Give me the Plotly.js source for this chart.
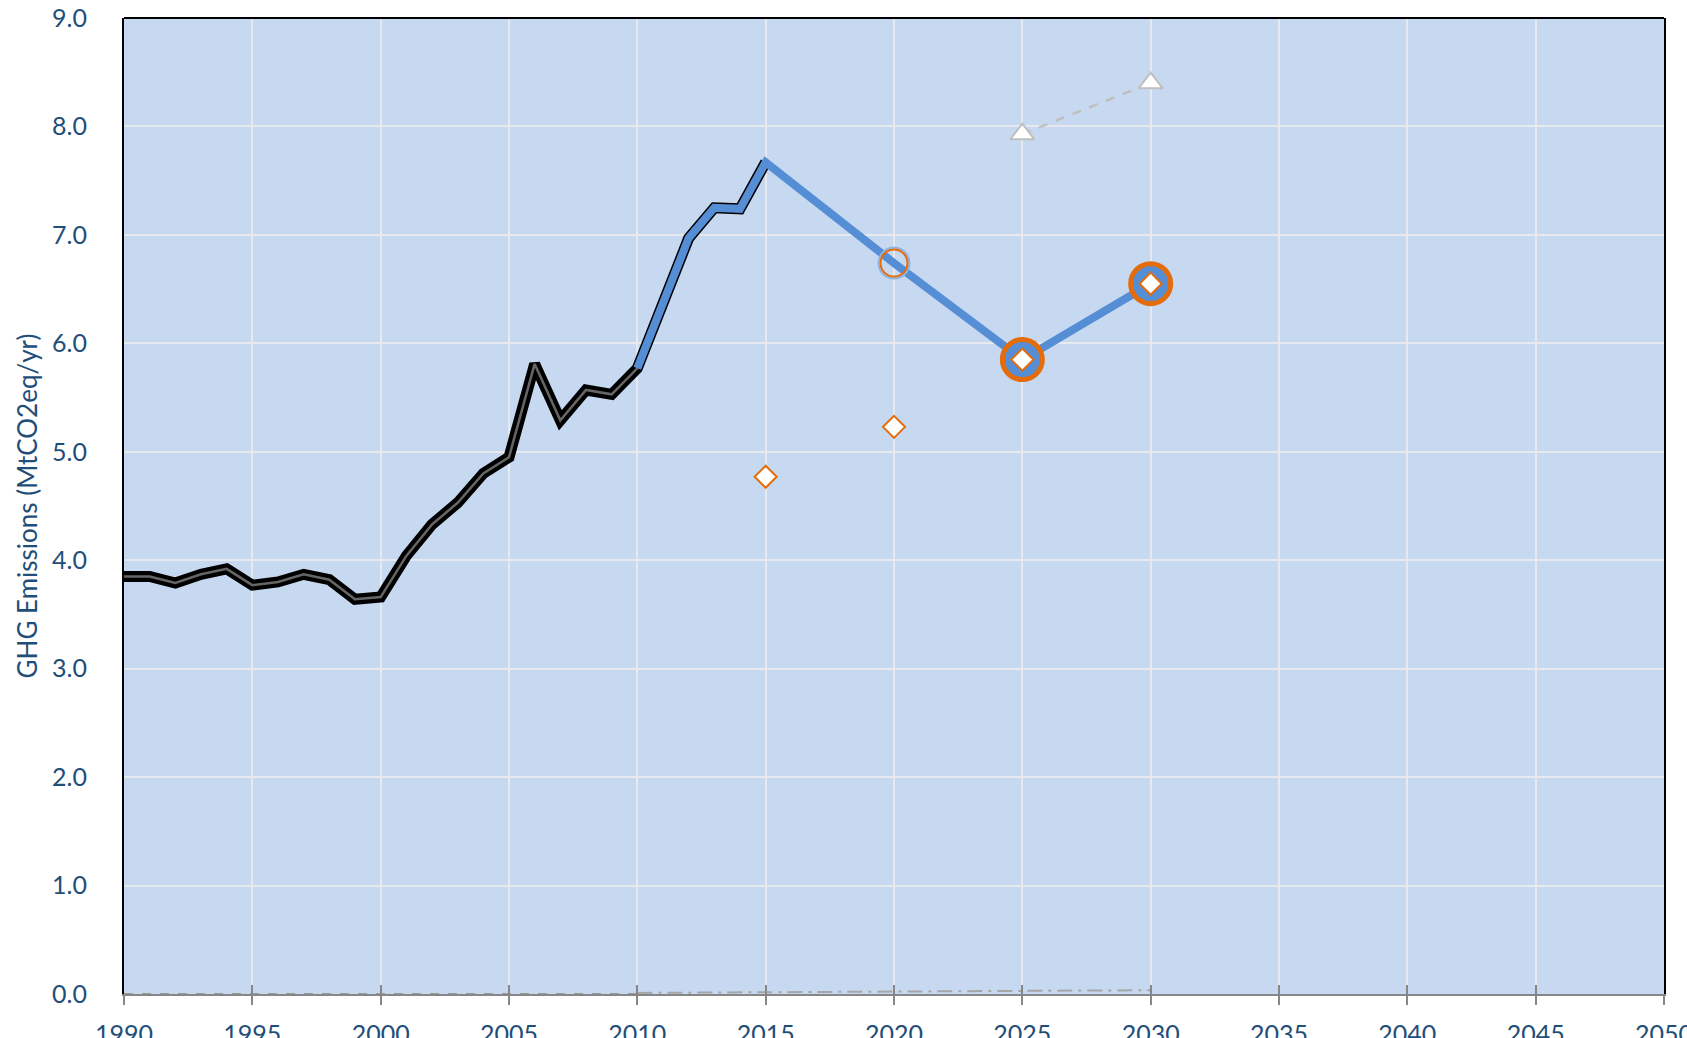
<!DOCTYPE html>
<html>
<head>
<meta charset="utf-8">
<script src="https://cdn.plot.ly/plotly-3.0.1.min.js"></script>
<style>html,body{margin:0;padding:0;background:#fff;}#chart{width:1687px;height:1038px;}</style>
</head>
<body>
<div id="chart"></div>
<script>
// Historical emissions (MtCO2eq/yr)
const histYears = [1990,1991,1992,1993,1994,1995,1996,1997,1998,1999,2000,2001,2002,2003,2004,2005,2006,2007,2008,2009,2010,2011,2012,2013,2014,2015];
const histValues = [3.85,3.85,3.79,3.87,3.92,3.77,3.80,3.87,3.82,3.64,3.66,4.04,4.33,4.53,4.80,4.95,5.81,5.29,5.57,5.53,5.77,6.36,6.97,7.25,7.24,7.67];

// Projection path (blue)
const projYears = [2010,2011,2012,2013,2014,2015,2020,2025,2030];
const projValues = [5.77,6.36,6.97,7.25,7.24,7.67,6.74,5.85,6.55];

// 2020 open circle marker
const circleYears = [2020];
const circleValues = [6.74];

// Target markers (large orange rings)
const targetYears = [2025,2030];
const targetValues = [5.85,6.55];

// Orange diamonds
const diamondYears = [2015,2020,2025,2030];
const diamondValues = [4.77,5.23,5.85,6.55];

// Grey triangles (dashed)
const triYears = [2025,2030];
const triValues = [7.93,8.40];

// Near-zero series along the axis
const zeroYearsA = [1990,1995,2000,2005,2010];
const zeroValuesA = [0,0,0,0,0];
const zeroYearsB = [2010,2015,2020,2025,2030];
const zeroValuesB = [0.01,0.015,0.025,0.03,0.035];

// Tick labels
const xTicks = [1990,1995,2000,2005,2010,2015,2020,2025,2030,2035,2040,2045,2050];
const xTickText = ['1990','1995','2000','2005','2010','2015','2020','2025','2030','2035','2040','2045','2050'];

const blue = '#558ED5';
const orange = '#E46C0A';
const textBlue = '#1F4E79';
const fontFam = 'Lato, "Open Sans", sans-serif';

const traces = [
  {x: zeroYearsA, y: zeroValuesA, xaxis: 'x2', mode: 'lines', line: {color: '#9a9a9a', width: 2, dash: 'dash'}, hoverinfo: 'skip'},
  {x: zeroYearsB, y: zeroValuesB, mode: 'lines', line: {color: '#a6a6a6', width: 2, dash: 'longdashdot'}, hoverinfo: 'skip'},
  {x: histYears, y: histValues, mode: 'lines', line: {color: '#000000', width: 11}},
  {x: histYears, y: histValues, mode: 'lines', line: {color: '#656565', width: 2.5}},
  {x: projYears, y: projValues, mode: 'lines', line: {color: blue, width: 8}},
  {x: triYears, y: triValues, mode: 'lines+markers', line: {color: '#BFBFBF', width: 2.5, dash: 'dash'},
   marker: {symbol: 'triangle-up', size: 21, color: '#ffffff', line: {color: '#BFBFBF', width: 2}}},
  {x: circleYears, y: circleValues, mode: 'markers', marker: {symbol: 'circle-open', size: 31, color: '#8FB4E3', line: {width: 2}}},
  {x: circleYears, y: circleValues, mode: 'markers', marker: {symbol: 'circle-open', size: 27, color: orange, line: {width: 2}}},
  {x: targetYears, y: targetValues, mode: 'markers', marker: {symbol: 'circle', size: 40, color: blue, line: {color: orange, width: 5}}},
  {x: diamondYears, y: diamondValues, mode: 'markers', marker: {symbol: 'diamond', size: 17, color: '#ffffff', line: {color: orange, width: 2}}}
];

const layout = {
  width: 1687, height: 1038,
  margin: {l: 124, r: 23, t: 18, b: 44},
  paper_bgcolor: '#ffffff',
  plot_bgcolor: '#C6D9F1',
  showlegend: false,
  font: {family: fontFam, color: textBlue, size: 25},
  xaxis: {
    range: [1990, 2050], tickmode: 'array', tickvals: xTicks, ticktext: xTickText,
    showgrid: true, gridcolor: '#E6E9EE', gridwidth: 2,
    zeroline: false,
    showline: true, linecolor: '#878787', linewidth: 2,
    ticks: 'outside', ticklen: 9, tickwidth: 2, tickcolor: '#878787',
    ticklabelstandoff: 8, ticklabeloverflow: 'allow',
    tickfont: {family: fontFam, size: 25, color: textBlue}
  },
  xaxis2: {
    range: [1990, 2050], tickmode: 'array', tickvals: xTicks, overlaying: 'x', anchor: 'y', side: 'bottom',
    showgrid: false, zeroline: false, showline: false, showticklabels: false,
    ticks: 'inside', ticklen: 9, tickwidth: 2, tickcolor: '#878787'
  },
  yaxis: {
    range: [0, 9], dtick: 1, tick0: 0, tickformat: '.1f',
    showgrid: true, gridcolor: '#E6E9EE', gridwidth: 2,
    zeroline: false,
    showline: true, linecolor: '#000000', linewidth: 2, mirror: true,
    ticks: '', ticklabelstandoff: 30,
    tickfont: {family: fontFam, size: 25, color: textBlue},
    title: {text: 'GHG Emissions (MtCO2eq/yr)', standoff: 7, font: {family: fontFam, size: 26, color: textBlue}}
  },
  shapes: [
    {type: 'line', xref: 'paper', yref: 'paper', x0: 0, x1: 1, y0: 1, y1: 1, line: {color: '#000000', width: 2}}
  ]
};

Plotly.newPlot('chart', traces, layout, {displayModeBar: false, staticPlot: true});
</script>
</body>
</html>
